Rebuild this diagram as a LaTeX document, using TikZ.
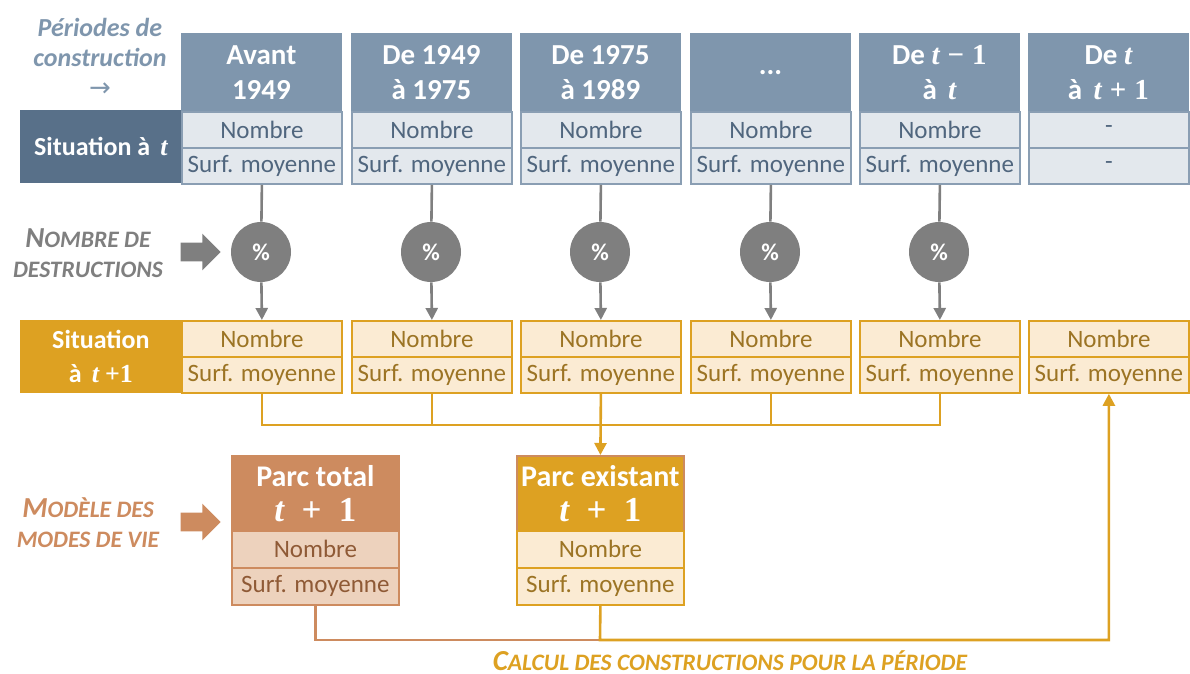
\documentclass[tikz,border=0pt]{standalone}
\usepackage{fontspec}
\setmainfont{Carlito}
\newfontfamily\formule{Liberation Serif}
\newfontfamily\symb{DejaVu Sans}
\usepackage{xcolor}
\usetikzlibrary{arrows.meta, positioning, shapes.arrows}

\definecolor{bleuhead}{HTML}{7F96AD}
\definecolor{bleufonce}{HTML}{587089}
\definecolor{bleuclair}{HTML}{E3E8ED}
\definecolor{bleubord}{HTML}{8A9EB3}
\definecolor{bleutexte}{HTML}{50667E}
\definecolor{ocre}{HTML}{DDA122}
\definecolor{ocreclair}{HTML}{FBEBD3}
\definecolor{ocretexte}{HTML}{9C7424}
\definecolor{brique}{HTML}{CD8B5F}
\definecolor{briqueclair}{HTML}{EDD2BD}
\definecolor{briquetexte}{HTML}{8F5A36}
\definecolor{gris}{HTML}{7F7F7F}

% fausses petites capitales
\newcommand{\petitcap}[2]{{\fontsize{14.5}{15}\selectfont #1}{\fontsize{11.8}{15}\selectfont #2}}
% variable t et opérateurs, en gras
\newcommand{\vt}{{\formule\bfseries\itshape t}}
\newcommand{\vop}[1]{{\formule\bfseries #1}}
\newcommand{\tplusun}{{\fontsize{17.5}{17.5}\selectfont\vt\enspace\vop{+}\enspace\vop{1}}}

\begin{document}
\begin{tikzpicture}[
  x=0.5pt, y=-0.5pt,
  tete/.style={rectangle, anchor=north west, minimum width=80pt, minimum height=39pt,
               inner sep=0pt, align=center, fill=bleuhead, draw=bleuhead, text=white,
               font=\fontsize{14.5}{17.5}\selectfont\bfseries},
  case/.style={rectangle, anchor=north west, minimum width=80pt, minimum height=18pt,
               inner sep=0pt, line width=0.9pt, font=\fontsize{12.5}{14}\selectfont},
  casebleu/.style={case, fill=bleuclair, draw=bleubord, text=bleutexte},
  caseocre/.style={case, fill=ocreclair, draw=ocre, text=ocretexte},
  situation/.style={rectangle, anchor=north west, minimum width=80.5pt, minimum height=36.5pt,
                    inner sep=0pt, align=center, text=white,
                    font=\fontsize{13}{17}\selectfont\bfseries},
  parc/.style={rectangle, anchor=north west, minimum width=83.5pt, minimum height=37.5pt,
               inner sep=0pt, align=center, text=white, line width=0.9pt,
               font=\fontsize{15}{17.5}\selectfont\bfseries},
  caseparc/.style={case, minimum width=83.5pt, minimum height=18.5pt},
  pct/.style={circle, fill=gris, minimum size=30pt, inner sep=0pt, text=white,
              font=\fontsize{12}{14}\selectfont\bfseries},
  bloc/.style={single arrow, minimum height=20pt, inner xsep=0pt, inner ysep=4.5pt,
               single arrow head extend=4.5pt, single arrow tip angle=90},
  legende/.style={align=center, font=\fontsize{13}{15}\selectfont\bfseries\itshape},
  lien/.style={line width=1.3pt},
  fleche/.style={-{Triangle[width=6pt, length=6pt]}}
]
  \useasboundingbox (0,0) rectangle (1190,674);

  %% ── Rangée 1 : situation à t ──────────────────────────────────────
  \node[legende, text=bleuhead] (periodes) at (100,57)
    {Périodes de\\construction\\{\symb\mdseries\upshape →}};
  \node[situation, fill=bleufonce] (sitA) at (20,110) {Situation à~\,\vt};

  \foreach \i/\x/\titre in {1/181/{Avant\\1949}, 2/351/{De 1949\\à 1975},
      3/520/{De 1975\\à 1989}, 4/690/{...}, 5/859/{De \vt\;\vop{−}\;\vop{1}\\à~\,\vt},
      6/1028/{De \vt\\à~\,\vt\;\vop{+}\;\vop{1}}}
    \node[tete] (ha\i) at (\x,33) {\titre};

  \foreach \i/\x in {1/181, 2/351, 3/520, 4/690, 5/859} {
    \node[casebleu] (na\i) at (\x,111) {Nombre};
    \node[casebleu] (sa\i) at (\x,147) {Surf. moyenne};
  }
  \node[casebleu] (na6) at (1028,111) {-};
  \node[casebleu] (sa6) at (1028,147) {-};

  %% ── Destructions ──────────────────────────────────────────────────
  \node[legende, text=gris] (destr) at (88,253)
    {\petitcap{N}{OMBRE DE}\\\petitcap{}{DESTRUCTIONS}};
  \node[bloc, fill=gris] (fdestr) at (196,252) {};

  \foreach \i/\x in {1/181, 2/351, 3/520, 4/690, 5/859}
    \node[pct] (pc\i) at (\x+80,252) {\%};

  %% ── Rangée 2 : situation à t+1 ────────────────────────────────────
  \node[situation, fill=ocre] (sitB) at (20,320) {Situation\\à~\,\vt~\vop{+}\vop{1}};

  \foreach \i/\x in {1/181, 2/351, 3/520, 4/690, 5/859, 6/1028} {
    \node[caseocre] (nb\i) at (\x,320) {Nombre};
    \node[caseocre] (sb\i) at (\x,356) {Surf. moyenne};
  }

  %% ── Parcs t+1 ─────────────────────────────────────────────────────
  \node[legende, text=brique] (modele) at (88,523)
    {\petitcap{M}{ODÈLE DES}\\\petitcap{}{MODES DE VIE}};
  \node[bloc, fill=brique] (fmodele) at (196,522) {};

  \node[parc, fill=brique, draw=brique] (pt) at (231,455) {Parc total\\\tplusun};
  \node[caseparc, fill=briqueclair, draw=brique, text=briquetexte] (ptn) at (231,530) {Nombre};
  \node[caseparc, fill=briqueclair, draw=brique, text=briquetexte] (pts) at (231,567) {Surf. moyenne};

  \node[parc, fill=ocre, draw=brique] (pe) at (516,455) {Parc existant\\\tplusun};
  \node[caseparc, fill=ocreclair, draw=ocre, text=ocretexte] (pen) at (516,530) {Nombre};
  \node[caseparc, fill=ocreclair, draw=ocre, text=ocretexte] (pes) at (516,567) {Surf. moyenne};

  \node[legende, text=ocre] (calcul) at (730,661)
    {\petitcap{C}{ALCUL DES CONSTRUCTIONS POUR LA PÉRIODE}};

  %% ── Liaisons ──────────────────────────────────────────────────────
  \foreach \i in {1,...,5} {
    \draw[lien, gris] (sa\i.south) -- (pc\i);
    \draw[lien, gris, fleche] (pc\i) -- (nb\i.north);
  }

  \draw[lien, ocre] (sb1.south) -- ++(0,31) -| (sb5.south);
  \foreach \i in {2,4}
    \draw[lien, ocre] (sb\i.south) -- ++(0,31);
  \draw[lien, ocre, fleche] (sb3.south) -- (pe.north);

  \coordinate (retour) at (600,640);
  \draw[lien, brique] (pts.south) |- (retour);
  \draw[lien, ocre, fleche] (pes.south) -- (retour) -| (sb6.south);
\end{tikzpicture}
\end{document}
